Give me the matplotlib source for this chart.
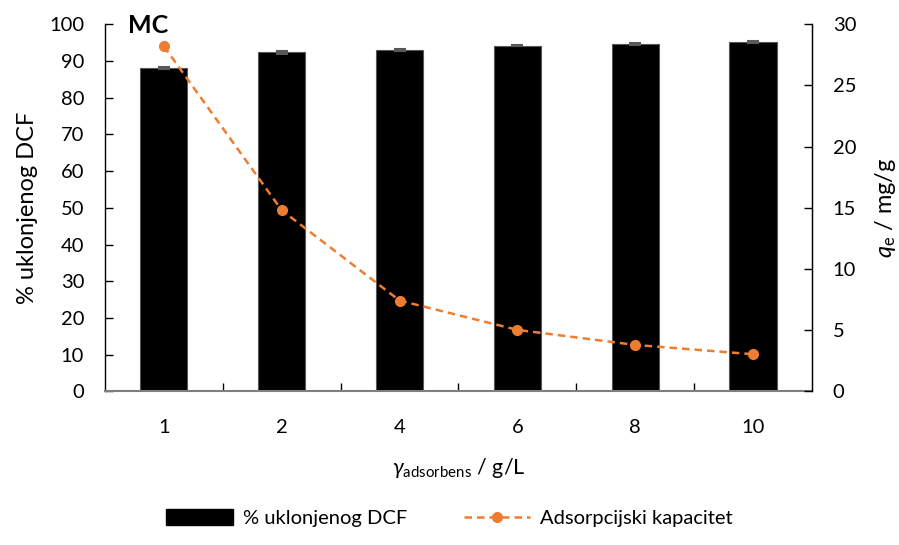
import numpy as np
import matplotlib.pyplot as plt
from matplotlib.lines import Line2D
from matplotlib.patches import Patch
from matplotlib.ticker import FixedLocator

plt.rcParams['font.family'] = ['Lato', 'DejaVu Sans']
plt.rcParams['mathtext.fontset'] = 'custom'
plt.rcParams['mathtext.rm'] = 'Lato'
plt.rcParams['mathtext.it'] = 'Lato:italic'

# data
doses = ['1', '2', '4', '6', '8', '10']
removal = [88.1, 92.4, 93.1, 94.2, 94.6, 95.2]        # % uklonjenog DCF
removal_err = [0.2, 0.4, 0.3, 0.2, 0.3, 0.2]
capacity = [28.2, 14.8, 7.42, 5.02, 3.79, 3.03]        # q_e / mg/g

ORANGE = '#ED7D31'
GREY = '#7F7F7F'

fig = plt.figure(figsize=(8.99, 5.45), dpi=100)
ax = fig.add_axes([0.1168, 0.282, 0.7864, 0.6734])
ax2 = ax.twinx()

x = np.arange(len(doses))
ax.bar(x, removal, width=0.4, color='black', edgecolor='#595959', linewidth=0.8,
       yerr=removal_err, ecolor='#595959', capsize=4, error_kw=dict(elinewidth=1, capthick=1.5),
       zorder=2)
ax2.plot(x, capacity, color=ORANGE, ls='--', lw=1.8, dashes=(3, 2),
         marker='o', markersize=7, zorder=3)

ax.set_xlim(-0.5, len(doses) - 0.5)
ax.set_ylim(0, 100)
ax.set_yticks(np.arange(0, 101, 10))
ax2.set_ylim(0, 30)
ax2.set_yticks(np.arange(0, 31, 5))

ax.set_xticks(x)
ax.set_xticklabels(doses)
ax.xaxis.set_minor_locator(FixedLocator(np.arange(0.5, len(doses) - 0.5, 1)))
ax.tick_params(axis='x', which='major', length=0, pad=20, labelsize=14.5)
ax.tick_params(axis='x', which='minor', direction='in', length=6, color='black', width=1)
ax.tick_params(axis='y', direction='in', length=6, width=1, pad=15, labelsize=14.5)
ax2.tick_params(axis='y', direction='in', length=6, width=1, pad=15, labelsize=14.5)

for a in (ax, ax2):
    a.spines['top'].set_visible(False)
ax.spines['bottom'].set_color(GREY)
ax.spines['bottom'].set_linewidth(1.5)
ax2.spines['bottom'].set_visible(False)
ax.spines['left'].set_linewidth(1)
ax2.spines['right'].set_linewidth(1)
ax2.spines['left'].set_visible(False)

ax.set_ylabel('% uklonjenog DCF', fontsize=17, labelpad=8)
ax2.set_ylabel(r'$q_{\mathrm{e}}$ / mg/g', fontsize=17, labelpad=12)
ax.set_xlabel(r'$\gamma_{\mathrm{adsorbens}}$ / g/L', fontsize=15.5, labelpad=14)

fig.text(0.142, 0.94, 'MC', fontsize=18, fontweight='bold', va='baseline')

handles = [Patch(facecolor='black', edgecolor='black'),
           Line2D([0], [0], color=ORANGE, ls='--', lw=1.8, dashes=(3, 2),
                  marker='o', markersize=7)]
fig.legend(handles, ['% uklonjenog DCF', 'Adsorpcijski kapacitet'], loc='lower center',
           bbox_to_anchor=(0.5, 0.0), ncol=2, frameon=False, fontsize=14.5,
           handlelength=3.3, handleheight=0.8, columnspacing=2.8, handletextpad=0.5,
           numpoints=1)

fig.savefig('out.png', dpi=100)
